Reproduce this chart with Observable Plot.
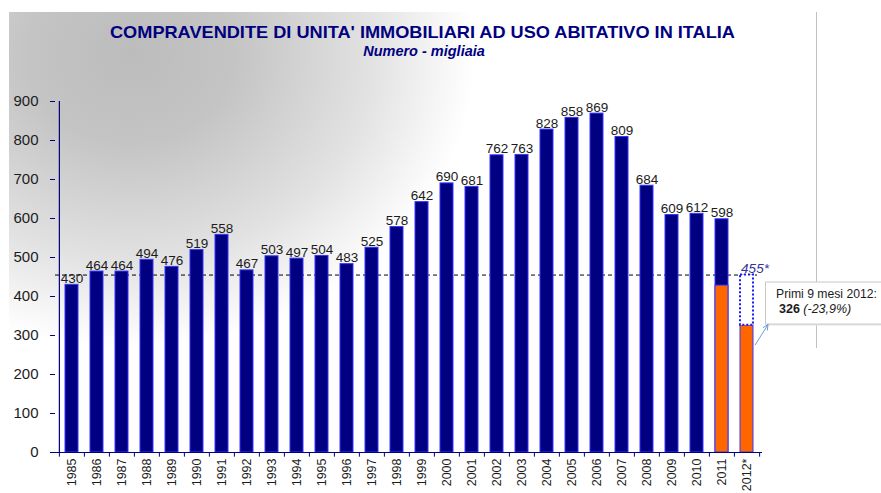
<!DOCTYPE html>
<html>
<head>
<meta charset="utf-8">
<script src="https://cdn.jsdelivr.net/npm/d3@7"></script>
<script src="https://cdn.jsdelivr.net/npm/@observablehq/plot@0.6"></script>
<style>
  html, body { margin: 0; padding: 0; background: #fff; }
  #chart svg { display: block; }
</style>
</head>
<body>
<div id="chart"></div>
<script>
// ---------- data ----------
const years = ["1985","1986","1987","1988","1989","1990","1991","1992","1993","1994",
  "1995","1996","1997","1998","1999","2000","2001","2002","2003","2004",
  "2005","2006","2007","2008","2009","2010","2011","2012*"];
const annualYears = ["1985","1986","1987","1988","1989","1990","1991","1992","1993","1994",
  "1995","1996","1997","1998","1999","2000","2001","2002","2003","2004",
  "2005","2006","2007","2008","2009","2010","2011"];
const annualValues = [430,464,464,494,476,519,558,467,503,497,
  504,483,525,578,642,690,681,762,763,828,
  858,869,809,684,609,612,598];
const partialYears = ["2011","2012*"];      // first nine months
const partialValues = [428, 326];
const estimateYear = "2012*";
const estimateValue = 455;
const estimateLabel = "455*";
const yTicks = [0,100,200,300,400,500,600,700,800,900];
const title = "COMPRAVENDITE DI UNITA' IMMOBILIARI AD USO ABITATIVO IN ITALIA";
const subtitle = "Numero - migliaia";
const noteLine1 = "Primi 9 mesi 2012:";
const noteValue = "326";
const noteChange = "(-23,9%)";

// ---------- layout / style ----------
const W = 881, H = 493, ML = 55, MR = 119, MT = 101, MB = 41;
const step = (W - ML - MR) / years.length;
const FONT = "'Liberation Sans', Arial, Helvetica, sans-serif";
const NAVY = "#000080", EDGE = "#3535ff", ORANGE = "#ff6600", INK = "#1c1c1c";

const annual = annualYears.map((year, i) => ({year, value: annualValues[i]}));
const partial = partialYears.map((year, i) => ({year, value: partialValues[i]}));
const estimate = [{year: estimateYear, lo: partialValues[1], hi: estimateValue}];

// background panel with gradient + right divider + titles
function backdrop() {
  const g = d3.create("svg:g");
  const grad = g.append("defs").append("radialGradient")
    .attr("id", "bgGrad").attr("gradientUnits", "userSpaceOnUse")
    .attr("cx", 130).attr("cy", 55).attr("r", 345)
    .attr("gradientTransform", "translate(130,55) scale(1,0.85) translate(-130,-55)");
  grad.append("stop").attr("offset", 0).attr("stop-color", "#bcbcbc");
  grad.append("stop").attr("offset", 0.3).attr("stop-color", "#c4c4c4");
  grad.append("stop").attr("offset", 0.7).attr("stop-color", "#e2e2e2");
  grad.append("stop").attr("offset", 1).attr("stop-color", "#ffffff");
  g.append("rect").attr("x", 9).attr("y", 12).attr("width", 807).attr("height", H - 12)
    .attr("fill", "url(#bgGrad)");
  g.append("line").attr("x1", 816.5).attr("x2", 816.5).attr("y1", 12).attr("y2", 348)
    .attr("stroke", "#c0c0c0").attr("stroke-width", 1);
  const t = g.append("g").attr("fill", NAVY).attr("text-anchor", "middle").attr("font-family", FONT);
  t.append("text").attr("x", 422.5).attr("y", 38).attr("font-size", 17).attr("font-weight", "bold")
    .attr("textLength", 625).attr("lengthAdjust", "spacingAndGlyphs").text(title);
  t.append("text").attr("x", 424).attr("y", 56).attr("font-size", 14.5).attr("font-weight", "bold")
    .attr("font-style", "italic").text(subtitle);
  return g.node();
}

// annotation box with arrow, anchored to the 2012* bar
function annotation(index, scales) {
  const x = scales.x, y = scales.y;
  let bw = (x && x.bandwidth) ? x.bandwidth() : step * 0.5;
  let left0 = x ? x(estimateYear) : NaN;
  if (!isFinite(left0)) left0 = ML + step * (years.length - 1) + step * 0.25;
  const barRight = left0 + bw;
  const yTop = y(estimateValue);
  const bx = barRight + 12, by = yTop + 7, bwid = 140, bh = 42;
  const g = d3.create("svg:g").attr("font-family", FONT).attr("text-anchor", "start");
  g.append("rect").attr("x", bx + 2).attr("y", by + 2).attr("width", bwid).attr("height", bh)
    .attr("fill", "#e8e8e8");
  g.append("rect").attr("x", bx + 0.5).attr("y", by + 0.5).attr("width", bwid).attr("height", bh)
    .attr("fill", "#fff").attr("stroke", "#c8c8c8");
  g.append("text").attr("x", bx + 11).attr("y", by + 16).attr("font-size", 12.2)
    .attr("fill", INK).text(noteLine1);
  const t2 = g.append("text").attr("x", bx + 14).attr("y", by + 31).attr("font-size", 12.5).attr("fill", INK);
  t2.append("tspan").attr("font-weight", "bold").text(noteValue);
  t2.append("tspan").attr("font-style", "italic").text(" " + noteChange);
  // arrow
  const x1 = barRight + 2, y1 = y(274), x2 = bx + 3, y2 = by + bh + 1;
  g.append("line").attr("x1", x1).attr("y1", y1).attr("x2", x2).attr("y2", y2)
    .attr("stroke", "#6d9bd6").attr("stroke-width", 1);
  const ang = Math.atan2(y2 - y1, x2 - x1);
  const hl = 6;
  const p = (a) => [x2 - hl * Math.cos(ang + a), y2 - hl * Math.sin(ang + a)];
  const [ax, ay] = p(0.45), [cx, cy] = p(-0.45);
  g.append("path").attr("d", `M${ax},${ay}L${x2},${y2}L${cx},${cy}`)
    .attr("fill", "none").attr("stroke", "#6d9bd6").attr("stroke-width", 1);
  return g.node();
}

const chart = Plot.plot({
  width: W, height: H,
  marginLeft: ML, marginRight: MR, marginTop: MT, marginBottom: MB,
  style: {fontFamily: FONT, background: "#fff", overflow: "visible"},
  x: {domain: years, paddingInner: 0.5, paddingOuter: 0.25, axis: null},
  y: {domain: [0, 900], axis: null},
  marks: [
    backdrop,
    Plot.ruleY([estimateValue], {stroke: "#000", strokeWidth: 1, strokeDasharray: "4,3", insetRight: 5}),
    Plot.barY(annual, {x: "year", y: "value", fill: NAVY, stroke: EDGE, strokeWidth: 1}),
    Plot.barY(partial, {x: "year", y: "value", fill: ORANGE, stroke: EDGE, strokeWidth: 1}),
    Plot.barY(estimate, {x: "year", y1: "lo", y2: "hi", fill: "#fff", stroke: "#1a1aff",
      strokeWidth: 2, strokeDasharray: "2,2"}),
    Plot.text(annual, {x: "year", y: "value", text: d => String(d.value), lineAnchor: "bottom",
      dy: -2, fontSize: 13.5, fill: INK}),
    Plot.text(estimate, {x: "year", y: "hi", text: () => estimateLabel, lineAnchor: "bottom",
      dx: 8, dy: -2, fontSize: 13.5, fontStyle: "italic", fill: "#333399"}),
    // axis lines and ticks
    Plot.ruleY([0], {stroke: NAVY, strokeWidth: 1.2}),
    Plot.ruleX([years[0]], {dx: -step / 2, y1: 0, y2: 900, stroke: NAVY, strokeWidth: 1.2}),
    Plot.ruleX(years, {x: d => d, dx: -step / 2, y1: 0, y2: -12, stroke: NAVY}),
    Plot.ruleX([years[years.length - 1]], {dx: step / 2, y1: 0, y2: -12, stroke: NAVY}),
    Plot.axisY({ticks: yTicks, tickSize: 5, tickPadding: 12, fontSize: 15, stroke: NAVY,
      fill: INK, label: null}),
    Plot.axisX({tickSize: 0, tickRotate: -90, tickPadding: 6, fontSize: 12.5, fill: INK, label: null}),
    annotation
  ]
});
document.getElementById("chart").appendChild(chart);
</script>
</body>
</html>
